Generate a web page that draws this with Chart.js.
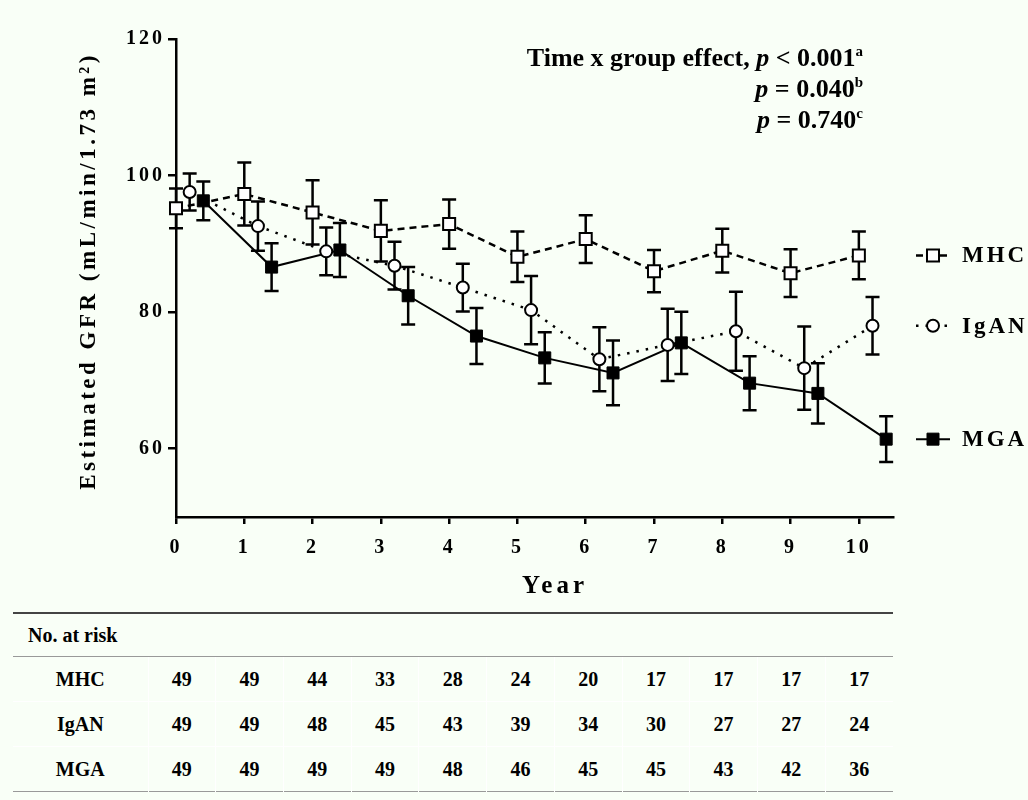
<!DOCTYPE html>
<html>
<head>
<meta charset="utf-8">
<script src="https://cdn.jsdelivr.net/npm/chart.js@4.4.0/dist/chart.umd.min.js"></script>
<style>
    html, body { margin: 0; padding: 0; background: #f9fff7; }
    #wrap {
        position: relative; width: 1028px; height: 800px; overflow: hidden;
        font-family: "Liberation Serif", "Times New Roman", serif; font-weight: bold; color: #000;
    }
    #graficoGFR { position: absolute; left: 0; top: 0; width: 1028px; height: 600px; }
    #stats {
        position: absolute; right: 165px; top: 42px; text-align: right;
        font-size: 26px; line-height: 31px; white-space: nowrap;
    }
    #stats sup { font-size: 15px; vertical-align: 10px; line-height: 0; }
    #riesgo {
        position: absolute; left: 13px; top: 612px; width: 880px;
        border-collapse: collapse; font-size: 20px; table-layout: fixed;
        border-top: 2.5px solid #444; border-bottom: 1.5px solid #999;
    }
    #riesgo th { text-align: left; padding: 0 0 0 15px; height: 42px; border-bottom: 1.5px solid #999; font-weight: bold; }
    #riesgo td { text-align: center; height: 44px; padding: 0; border: 1px solid #ffffff; border-top: none; border-bottom: 1px solid #ffffff; }
    #riesgo tr:last-child td { border-bottom: none; }
    #riesgo td:first-child { border-left: none; }
    #riesgo td:last-child { border-right: none; }
</style>
</head>
<body>
<div id="wrap">
    <canvas id="graficoGFR" width="1028" height="600"></canvas>
    <div id="stats">Time x group effect, <i>p</i> &lt; 0.001<sup>a</sup><br><i>p</i> = 0.040<sup>b</sup><br><i>p</i> = 0.740<sup>c</sup></div>
    <table id="riesgo"></table>
</div>
<script>
const anios = [0, 1, 2, 3, 4, 5, 6, 7, 8, 9, 10];

const mhcGFR = [95.2, 97.3, 94.6, 91.9, 92.9, 88.1, 90.7, 86.0, 89.0, 85.7, 88.3];
const mhcErr = [2.9, 4.6, 4.7, 4.5, 3.6, 3.7, 3.5, 3.1, 3.2, 3.5, 3.5];

const igaGFR = [97.6, 92.6, 88.9, 86.8, 83.6, 80.3, 73.1, 75.2, 77.2, 71.8, 78.0];
const igaErr = [2.7, 3.6, 3.5, 3.5, 3.5, 5.0, 4.7, 5.3, 5.8, 6.1, 4.2];

const mgaGFR = [96.3, 86.6, 89.1, 82.4, 76.5, 73.3, 71.1, 75.5, 69.6, 68.1, 61.4];
const mgaErr = [2.85, 3.5, 3.95, 4.2, 4.1, 3.75, 4.75, 4.55, 3.95, 4.4, 3.35];

const yTicks = [60, 80, 100, 120];
const xTicks = [0, 1, 2, 3, 4, 5, 6, 7, 8, 9, 10];

const grupos = ["MHC", "IgAN", "MGA"];
const riesgoMHC = [49, 49, 44, 33, 28, 24, 20, 17, 17, 17, 17];
const riesgoIgAN = [49, 49, 48, 45, 43, 39, 34, 30, 27, 27, 24];
const riesgoMGA = [49, 49, 49, 49, 48, 46, 45, 45, 43, 42, 36];

const fuente = "'Liberation Serif', 'Times New Roman', serif";

// tabla de pacientes en riesgo
const tabla = document.getElementById("riesgo");
let html = '<colgroup><col style="width:135px">' + anios.map(() => '<col>').join('') + '</colgroup>';
html += '<tr><th colspan="12">No. at risk</th></tr>';
[riesgoMHC, riesgoIgAN, riesgoMGA].forEach((fila, i) => {
    html += '<tr><td>' + grupos[i] + '</td>' + fila.map(n => '<td>' + n + '</td>').join('') + '</tr>';
});
tabla.innerHTML = html;

function serie(valores, desfase) {
    return valores.map((v, i) => ({ x: anios[i] + desfase, y: v }));
}

const errores = [mhcErr, igaErr, mgaErr];

const barrasError = {
    id: "barrasError",
    beforeDraw(chart) {
        chart.ctx.letterSpacing = "3px";
    },
    beforeDatasetsDraw(chart) {
        const ctx = chart.ctx;
        ctx.letterSpacing = "0px";
        const y = chart.scales.y;
        ctx.save();
        ctx.strokeStyle = "#000";
        ctx.lineWidth = 2.5;
        chart.data.datasets.forEach((ds, d) => {
            const meta = chart.getDatasetMeta(d);
            meta.data.forEach((pt, i) => {
                const v = ds.data[i].y;
                const e = errores[d][i];
                const arriba = y.getPixelForValue(v + e);
                const abajo = y.getPixelForValue(v - e);
                ctx.beginPath();
                ctx.moveTo(pt.x, arriba);
                ctx.lineTo(pt.x, abajo);
                ctx.moveTo(pt.x - 7, arriba);
                ctx.lineTo(pt.x + 7, arriba);
                ctx.moveTo(pt.x - 7, abajo);
                ctx.lineTo(pt.x + 7, abajo);
                ctx.stroke();
            });
        });
        ctx.restore();
    },
    afterDraw(chart) {
        const ctx = chart.ctx;
        const y = chart.scales.y;

        // titulos de ejes
        ctx.save();
        ctx.fillStyle = "#000";
        ctx.font = "bold 23px " + fuente;
        ctx.letterSpacing = "3.5px";
        ctx.textAlign = "center";
        ctx.textBaseline = "middle";
        ctx.translate(89, 271);
        ctx.rotate(-Math.PI / 2);
        ctx.fillText("Estimated GFR (mL/min/1.73 m\u00b2)", 0, 0);
        ctx.restore();

        ctx.save();
        ctx.fillStyle = "#000";
        ctx.font = "bold 25px " + fuente;
        ctx.letterSpacing = "4px";
        ctx.textAlign = "center";
        ctx.textBaseline = "middle";
        ctx.fillText("Year", 555, 587);
        ctx.restore();

        // leyenda junto al ultimo punto
        chart.data.datasets.forEach((ds) => {
            const last = ds.data[ds.data.length - 1].y;
            const py = y.getPixelForValue(last);
            ctx.save();
            ctx.strokeStyle = "#000";
            ctx.lineWidth = ds.borderWidth;
            ctx.setLineDash(ds.borderDash || []);
            ctx.beginPath();
            ctx.moveTo(916, py);
            ctx.lineTo(950, py);
            ctx.stroke();
            ctx.setLineDash([]);
            ctx.fillStyle = ds.pointBackgroundColor;
            ctx.lineWidth = ds.pointBorderWidth;
            Chart.helpers.drawPoint(ctx, { pointStyle: ds.pointStyle, radius: ds.pointRadius, borderWidth: ds.pointBorderWidth, rotation: 0 }, 933, py);
            ctx.fillStyle = "#000";
            ctx.font = "bold 23px " + fuente;
            ctx.letterSpacing = "3px";
            ctx.textAlign = "left";
            ctx.textBaseline = "middle";
            ctx.fillText(ds.label, 962, py + 1);
            ctx.restore();
        });
    }
};

const ejeTicks = {
    color: "#000",
    font: { family: fuente, size: 20, weight: "bold" },
    autoSkip: false,
    maxRotation: 0
};

new Chart(document.getElementById("graficoGFR"), {
    type: "line",
    data: {
        datasets: [{
            label: "MHC",
            data: serie(mhcGFR, 0),
            borderColor: "#000",
            borderWidth: 2.5,
            borderDash: [7, 5],
            pointStyle: "rect",
            pointRadius: 8.5,
            pointBorderWidth: 2,
            pointBorderColor: "#000",
            pointBackgroundColor: "#ffffff",
            clip: false
        }, {
            label: "IgAN",
            data: serie(igaGFR, 0.2),
            borderColor: "#000",
            borderWidth: 2.5,
            borderDash: [2.5, 7],
            pointStyle: "circle",
            pointRadius: 6,
            pointBorderWidth: 2,
            pointBorderColor: "#000",
            pointBackgroundColor: "#ffffff",
            clip: false
        }, {
            label: "MGA",
            data: serie(mgaGFR, 0.4),
            borderColor: "#000",
            borderWidth: 2,
            pointStyle: "rect",
            pointRadius: 8.5,
            pointBorderWidth: 1,
            pointBorderColor: "#000",
            pointBackgroundColor: "#000",
            clip: false
        }]
    },
    options: {
        responsive: false,
        animation: false,
        layout: { padding: { left: 0, top: 39, right: 135, bottom: 0 } },
        plugins: {
            legend: { display: false },
            tooltip: { enabled: false }
        },
        scales: {
            x: {
                type: "linear",
                min: 0,
                max: 10.5,
                afterBuildTicks: s => { s.ticks = xTicks.map(v => ({ value: v })); },
                afterFit: s => { s.height = 83; },
                ticks: Object.assign({ padding: 12 }, ejeTicks),
                grid: { drawOnChartArea: false, drawTicks: true, tickLength: 7, color: "#000", lineWidth: 2.5 },
                border: { display: true, color: "#000", width: 2.5 }
            },
            y: {
                min: 50,
                max: 120,
                afterBuildTicks: s => { s.ticks = yTicks.map(v => ({ value: v })); },
                afterFit: s => { s.width = 176; },
                ticks: Object.assign({ padding: 3 }, ejeTicks),
                grid: { drawOnChartArea: false, drawTicks: true, tickLength: 8, color: "#000", lineWidth: 2.5 },
                border: { display: true, color: "#000", width: 2.5 }
            }
        }
    },
    plugins: [barrasError]
});
</script>
</body>
</html>
